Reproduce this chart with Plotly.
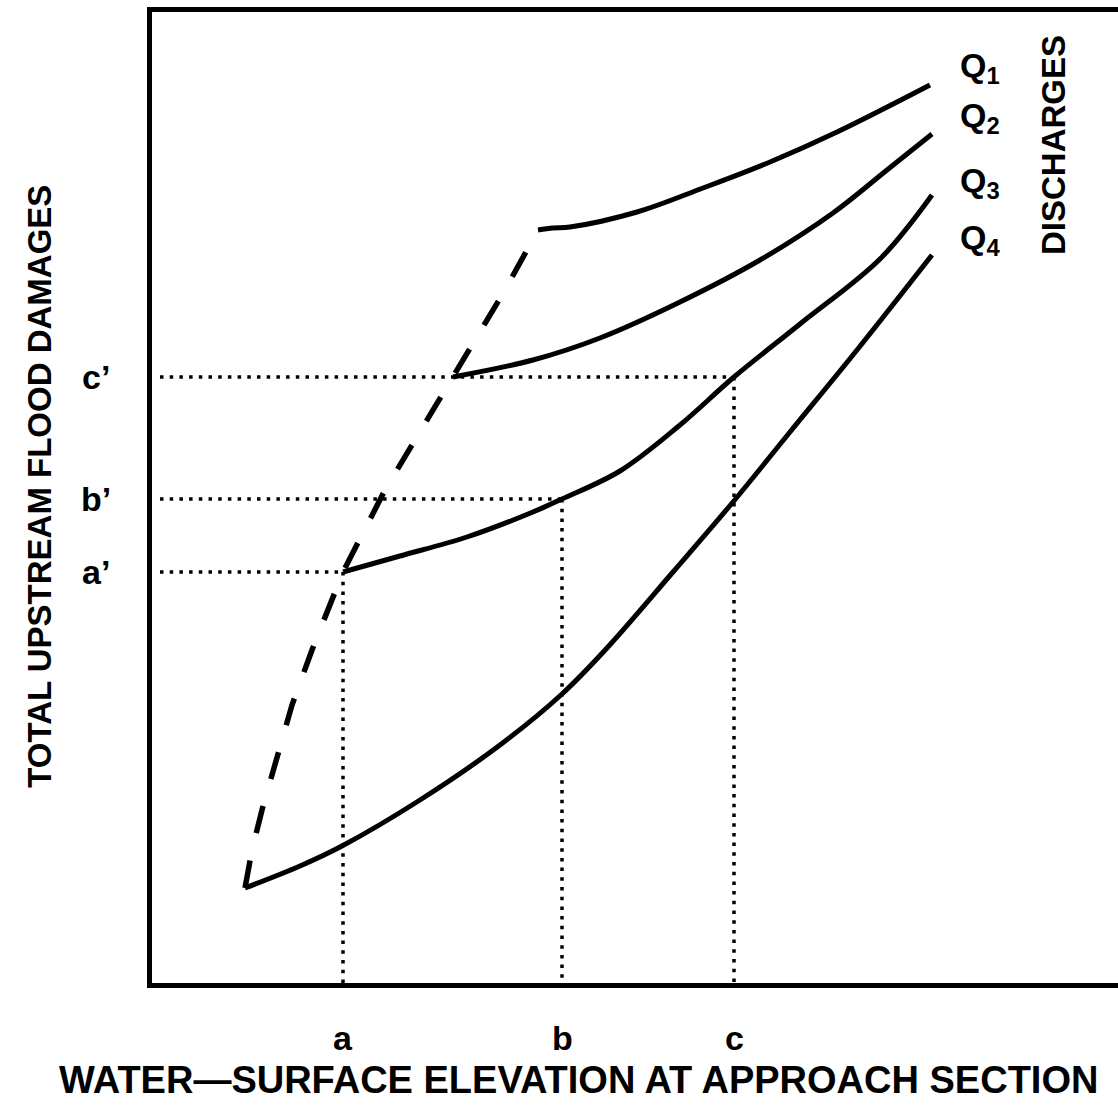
import plotly.graph_objects as go

# Water-surface elevation (x) vs. total upstream flood damages (y), arbitrary units
q1_x = [388, 403, 420, 487, 553, 620, 687, 780]
q1_y = [755, 757, 758, 773, 797, 823, 853, 900]

q2_x = [303, 383, 450, 530, 610, 683, 737, 782]
q2_y = [608, 625, 647, 683, 725, 772, 815, 851]

q3_x = [193, 250, 317, 383, 412, 470, 530, 584, 650, 730, 782]
q3_y = [413, 429, 448, 473, 486, 514, 560, 608, 661, 726, 790]

q4_x = [95, 150, 192, 270, 350, 412, 457, 523, 583, 640, 707, 782]
q4_y = [97, 119, 139, 185, 240, 291, 337, 413, 483, 553, 635, 730]

# Envelope joining the starting points of the discharge curves
env_x = [95, 102, 112, 126, 142, 162, 182, 193, 235, 265, 303, 325, 355, 388]
env_y = [97, 135, 175, 225, 280, 335, 387, 413, 495, 545, 608, 645, 695, 755]

# Reference elevations a, b, c and corresponding damages a', b', c'
elev_labels = ["a", "b", "c"]
elev_vals = [193, 412, 584]
damage_labels = ["a’", "b’", "c’"]
damage_vals = [413, 486, 608]
guide_start = 10

curve_names = ["Q<sub>1</sub>", "Q<sub>2</sub>", "Q<sub>3</sub>", "Q<sub>4</sub>"]
curve_label_y = [918, 868, 803, 746]

FONT = "Liberation Sans"
BLACK = "#000000"

fig = go.Figure()

solid = dict(color=BLACK, width=5)
for xs, ys in [(q1_x, q1_y), (q2_x, q2_y), (q3_x, q3_y), (q4_x, q4_y)]:
    fig.add_trace(go.Scatter(x=xs, y=ys, mode="lines", line=dict(solid, shape="spline", smoothing=1.0),
                             showlegend=False, hoverinfo="skip"))

fig.add_trace(go.Scatter(x=env_x, y=env_y, mode="lines",
                         line=dict(color=BLACK, width=5.5, dash="28px,28px"),
                         showlegend=False, hoverinfo="skip"))

dot = dict(color=BLACK, width=3.5, dash="3.5px,6.2px")
for xv, yv in zip(elev_vals, damage_vals):
    # horizontal guide from the damage axis to the curve
    fig.add_trace(go.Scatter(x=[guide_start, xv], y=[yv, yv], mode="lines", line=dot,
                             showlegend=False, hoverinfo="skip"))
    # vertical guide from the curve down to the elevation axis
    fig.add_trace(go.Scatter(x=[xv, xv], y=[yv, 0], mode="lines", line=dot,
                             showlegend=False, hoverinfo="skip"))

label_font = dict(family=FONT, size=34, color=BLACK)
annotations = []
for lab, xv in zip(elev_labels, elev_vals):
    annotations.append(dict(x=xv, xref="x", y=-0.057, yref="paper", text="<b>" + lab + "</b>",
                            showarrow=False, font=label_font, xanchor="center", yanchor="middle"))
for lab, yv in zip(damage_labels, damage_vals):
    annotations.append(dict(x=-0.058, xref="paper", y=yv, yref="y", text="<b>" + lab + "</b>",
                            showarrow=False, font=label_font, xanchor="center", yanchor="middle"))
for lab, yv in zip(curve_names, curve_label_y):
    annotations.append(dict(x=808, xref="x", y=yv, yref="y", text="<b>" + lab + "</b>",
                            showarrow=False, font=dict(family=FONT, size=34, color=BLACK),
                            xanchor="left", yanchor="middle"))

annotations.append(dict(x=903, xref="x", y=840, yref="y", text="<b>DISCHARGES</b>", textangle=-90,
                        showarrow=False, font=dict(family=FONT, size=33, color=BLACK),
                        xanchor="center", yanchor="middle"))
annotations.append(dict(x=-0.116, xref="paper", y=0.512, yref="paper",
                        text="<b>TOTAL UPSTREAM FLOOD DAMAGES</b>", textangle=-90,
                        showarrow=False, font=dict(family=FONT, size=33, color=BLACK),
                        xanchor="center", yanchor="middle"))
annotations.append(dict(x=0.442, xref="paper", y=-0.1, yref="paper",
                        text="<b>WATER—SURFACE ELEVATION AT APPROACH SECTION</b>",
                        showarrow=False, font=dict(family=FONT, size=38, color=BLACK),
                        xanchor="center", yanchor="middle"))

fig.update_layout(
    width=1118, height=1105,
    margin=dict(l=152, r=0, t=12, b=122),
    paper_bgcolor="white", plot_bgcolor="white",
    annotations=annotations,
    xaxis=dict(range=[2, 968], showgrid=False, zeroline=False, showticklabels=False, ticks="",
               showline=True, linewidth=5, linecolor=BLACK, mirror=True),
    yaxis=dict(range=[2, 973], showgrid=False, zeroline=False, showticklabels=False, ticks="",
               showline=True, linewidth=5, linecolor=BLACK, mirror=False),
)

fig.write_html("out.html")
